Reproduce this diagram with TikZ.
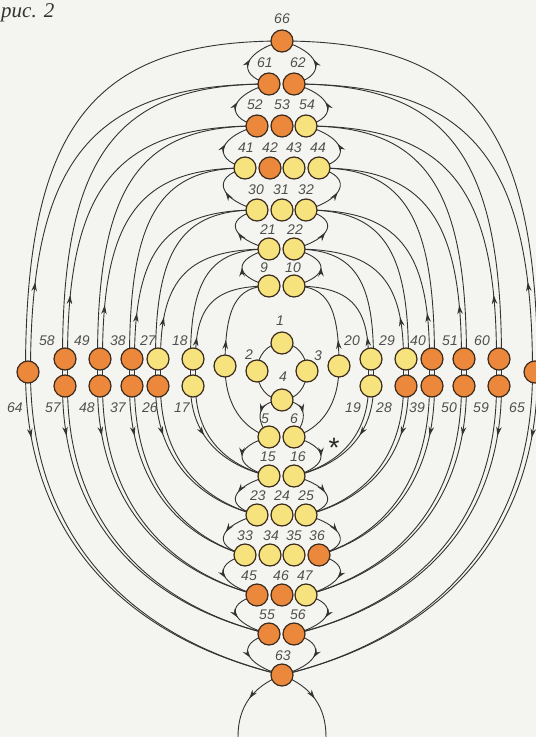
\documentclass[tikz,border=0pt]{standalone}
\usepackage{fontspec}
\newfontfamily\labfont{Liberation Sans}
\newfontfamily\capfont{Liberation Serif}
\usetikzlibrary{calc,arrows.meta,decorations.markings}
\pgfdeclarelayer{bg}
\pgfdeclarelayer{thr}
\pgfsetlayers{bg,thr,main}
\definecolor{paper}{HTML}{F4F4F1}
\definecolor{ybead}{HTML}{F7E37E}
\definecolor{obead}{HTML}{EC883B}
\definecolor{beadline}{HTML}{3B2B1E}
\definecolor{threadcol}{HTML}{333333}
\definecolor{labcol}{HTML}{4F4F4F}
\tikzset{
  bead/.style={circle,draw=beadline,line width=1.2pt,minimum size=22pt,inner sep=0pt},
  yb/.style={bead,fill=ybead},
  ob/.style={bead,fill=obead},
  lab/.style={font=\labfont\itshape\fontsize{14}{14}\selectfont,text=labcol,inner sep=0pt},
  thread/.style={draw=threadcol,line width=0.9pt},
  arrmid/.style={postaction={decorate},decoration={markings,mark=at position 0.5 with {\arrow{Stealth[length=9pt,width=5.5pt]}}}},
  arrat/.style={postaction={decorate},decoration={markings,mark=at position #1pt with {\arrow{Stealth[length=9pt,width=5.5pt]}}}},
}
% upper arc: #1 start coordinate, #2 end node, #3 extra style
\newcommand\uparc[3]{%
  \coordinate (tmpC) at (#1 |- #2);
  \draw[thread,#3] (#1) .. controls ($(#1)!0.74!(tmpC)$) and ($(#2)!0.74!(tmpC)$) .. (#2.center);
}
% lower arc
\newcommand\lowarc[3]{%
  \coordinate (tmpC) at (#1 |- #2);
  \coordinate (tmpD) at ($(#1)!0.8!(tmpC)$);
  \draw[thread,#3] (#1) .. controls ($(#1)!0.55!(tmpC)$) and ($(#2)!0.6!(tmpD)$) .. (#2.center);
}
% lobe between rows: from, to, dx, dy1, dy2
\newcommand\lobe[5]{%
  \draw[thread,arrmid] (#1.center) .. controls ($(#1)+(#3,#4)$) and ($(#2)+(#3,#5)$) .. (#2.center);
}
\begin{document}
\begin{tikzpicture}[x=1pt,y=-1pt]
\useasboundingbox (0,0) rectangle (536,737);
\begin{pgfonlayer}{bg}
\fill[paper] (0,0) rectangle (536,737);
\end{pgfonlayer}

% caption
\node[font=\capfont\itshape\fontsize{21}{21}\selectfont,text=black!80,anchor=base west,inner sep=0pt] (cap) at (1,17) {рис. 2};

% ---------- central column, upper ----------
\node[ob] (b66) at (282,41) {};
\node[ob] (b61) at (269,84) {};
\node[ob] (b62) at (294,84) {};
\node[ob] (b52) at (257,126) {};
\node[ob] (b53) at (282,126) {};
\node[yb] (b54) at (306,126) {};
\node[yb] (b41) at (245,168) {};
\node[ob] (b42) at (270,168) {};
\node[yb] (b43) at (294,168) {};
\node[yb] (b44) at (319,168) {};
\node[yb] (b30) at (257,210) {};
\node[yb] (b31) at (282,210) {};
\node[yb] (b32) at (306,210) {};
\node[yb] (b21) at (269,249) {};
\node[yb] (b22) at (294,249) {};
\node[yb] (b9) at (269,286) {};
\node[yb] (b10) at (294,286) {};
% ring
\node[yb] (b1) at (282,343) {};
\node[yb] (b2) at (257,371) {};
\node[yb] (b3) at (307,371) {};
\node[yb] (b4) at (282,400) {};
\node[yb] (b7) at (225,366) {};
\node[yb] (b8) at (339,366) {};
% lower
\node[yb] (b5) at (269,437) {};
\node[yb] (b6) at (294,437) {};
\node[yb] (b15) at (269,476) {};
\node[yb] (b16) at (294,476) {};
\node[yb] (b23) at (257,515) {};
\node[yb] (b24) at (282,515) {};
\node[yb] (b25) at (306,515) {};
\node[yb] (b33) at (245,555) {};
\node[yb] (b34) at (270,555) {};
\node[yb] (b35) at (294,555) {};
\node[ob] (b36) at (319,555) {};
\node[ob] (b45) at (257,595) {};
\node[ob] (b46) at (282,595) {};
\node[yb] (b47) at (306,595) {};
\node[ob] (b55) at (269,634) {};
\node[ob] (b56) at (294,634) {};
\node[ob] (b63) at (282,675) {};
% ---------- side beads ----------
\node[ob] (b64) at (28,372) {};
\node[ob] (b58) at (65,359) {};
\node[ob] (b57) at (65,386) {};
\node[ob] (b49) at (100,359) {};
\node[ob] (b48) at (100,386) {};
\node[ob] (b38) at (132,359) {};
\node[ob] (b37) at (132,386) {};
\node[yb] (b27) at (158,359) {};
\node[ob] (b26) at (158,386) {};
\node[yb] (b18) at (193,359) {};
\node[yb] (b17) at (193,386) {};
\node[yb] (b20) at (371,359) {};
\node[yb] (b19) at (371,386) {};
\node[yb] (b29) at (406,359) {};
\node[ob] (b28) at (406,386) {};
\node[ob] (b40) at (432,359) {};
\node[ob] (b39) at (432,386) {};
\node[ob] (b51) at (464,359) {};
\node[ob] (b50) at (464,386) {};
\node[ob] (b60) at (499,359) {};
\node[ob] (b59) at (499,386) {};
\node[ob] (b65) at (535,372) {};

% ---------- labels ----------
\node[lab] (l66) at (282,19) {66};
\node[lab] (l61) at (265,63) {61};
\node[lab] (l62) at (298,63) {62};
\node[lab] (l52) at (255,105) {52};
\node[lab] (l53) at (282,105) {53};
\node[lab] (l54) at (307,105) {54};
\node[lab] (l41) at (246,148) {41};
\node[lab] (l42) at (270,148) {42};
\node[lab] (l43) at (294,148) {43};
\node[lab] (l44) at (318,148) {44};
\node[lab] (l30) at (256,190) {30};
\node[lab] (l31) at (281,190) {31};
\node[lab] (l32) at (306,190) {32};
\node[lab] (l21) at (268,230) {21};
\node[lab] (l22) at (295,230) {22};
\node[lab] (l9) at (264,268) {9};
\node[lab] (l10) at (293,268) {10};
\node[lab] (l1) at (280,321) {1};
\node[lab] (l2) at (249,355) {2};
\node[lab] (l3) at (318,356) {3};
\node[lab] (l4) at (283,377) {4};
\node[lab] (l5) at (265,419) {5};
\node[lab] (l6) at (294,419) {6};
\node[lab] (l15) at (268,457) {15};
\node[lab] (l16) at (298,457) {16};
\node[lab] (l23) at (258,496) {23};
\node[lab] (l24) at (282,496) {24};
\node[lab] (l25) at (306,496) {25};
\node[lab] (l33) at (245,536) {33};
\node[lab] (l34) at (271,536) {34};
\node[lab] (l35) at (294,536) {35};
\node[lab] (l36) at (317,536) {36};
\node[lab] (l45) at (249,576) {45};
\node[lab] (l46) at (281,576) {46};
\node[lab] (l47) at (305,576) {47};
\node[lab] (l55) at (267,615) {55};
\node[lab] (l56) at (298,615) {56};
\node[lab] (l63) at (283,656) {63};
\node[lab] (l58) at (47,341) {58};
\node[lab] (l49) at (82,341) {49};
\node[lab] (l38) at (118,341) {38};
\node[lab] (l27) at (148,341) {27};
\node[lab] (l18) at (180,341) {18};
\node[lab] (l64) at (15,408) {64};
\node[lab] (l57) at (53,408) {57};
\node[lab] (l48) at (87,408) {48};
\node[lab] (l37) at (118,408) {37};
\node[lab] (l26) at (150,408) {26};
\node[lab] (l17) at (182,408) {17};
\node[lab] (l20) at (352,341) {20};
\node[lab] (l29) at (387,341) {29};
\node[lab] (l40) at (418,341) {40};
\node[lab] (l51) at (450,341) {51};
\node[lab] (l60) at (482,341) {60};
\node[lab] (l19) at (353,408) {19};
\node[lab] (l28) at (384,408) {28};
\node[lab] (l39) at (417,408) {39};
\node[lab] (l50) at (449,408) {50};
\node[lab] (l59) at (481,408) {59};
\node[lab] (l65) at (517,408) {65};
\node[font=\labfont\fontsize{28}{28}\selectfont,text=black!85,anchor=base,inner sep=0pt] (star) at (334,457) {*};

% ---------- threads ----------
\begin{pgfonlayer}{thr}
% ring
\draw[thread] (b1.center) to[out=180,in=90] (b2.center) to[out=-90,in=180] (b4.center)
  to[out=0,in=-90] (b3.center) to[out=90,in=0] (b1.center);
\draw[thread,arrmid] (b4.center) .. controls ($(b4)+(-26,2)$) and ($(b5)+(-14,-18)$) .. (b5.center);
\draw[thread,arrmid] (b4.center) .. controls ($(b4)+(26,2)$) and ($(b6)+(14,-18)$) .. (b6.center);
% lobes
\foreach \a/\b in {9/21,21/30,30/41,41/52,52/61,61/66}{\lobe{b\a}{b\b}{-36}{-10}{10}}
\foreach \a/\b in {10/22,22/32,32/44,44/54,54/62,62/66}{\lobe{b\a}{b\b}{36}{-10}{10}}
\foreach \a/\b in {5/15,15/23,23/33,33/45,45/55,55/63}{\lobe{b\a}{b\b}{-36}{10}{-10}}
\foreach \a/\b in {6/16,16/25,25/36,36/47,47/56,56/63}{\lobe{b\a}{b\b}{36}{10}{-10}}
% bottom
\coordinate (bl) at (238,737);
\coordinate (br) at (326,737);
\draw[thread,arrmid] (b63.center) .. controls ($(b63)+(-30,12)$) and ($(bl)+(0,-30)$) .. (bl);
\draw[thread,arrmid] (b63.center) .. controls ($(b63)+(30,12)$) and ($(br)+(0,-30)$) .. (br);
% innermost side beads 7 and 8
\uparc{b7.center}{b9}{arrat=26}
\lowarc{b7.center}{b5}{}
\uparc{b8.center}{b10}{arrat=26}
\lowarc{b8.center}{b6}{}
% side pairs
\foreach \u/\l/\ro/\ri/\rl/\so/\si/\au/\al in {
  58/57/61/52/55/-2.5/2.5/64/50, 49/48/52/41/45/-2.5/2.5/54/50,
  38/37/41/30/33/-2.5/2.5/46/50, 27/26/30/21/23/-2.5/2.5/42/50,
  18/17/21/9/15/-2.5/2.5/22/52,
  60/59/62/54/56/2.5/-2.5/64/50, 51/50/54/44/47/2.5/-2.5/54/50,
  40/39/44/32/36/2.5/-2.5/46/50, 29/28/32/22/25/2.5/-2.5/42/50,
  20/19/22/10/16/2.5/-2.5/22/52}{
  \coordinate (uo) at ($(b\u)+(\so,0)$);
  \coordinate (ui) at ($(b\u)+(\si,0)$);
  \coordinate (lo) at ($(b\l)+(\so,0)$);
  \coordinate (li) at ($(b\l)+(\si,0)$);
  \draw[thread] (uo) -- (lo) (ui) -- (li);
  \uparc{uo}{b\ro}{}
  \uparc{ui}{b\ri}{arrat=\au}
  \lowarc{lo}{b\rl}{arrat=\al}
  \lowarc{li}{b\rl}{}
}
% outermost single beads 64 and 65
\coordinate (p64o) at ($(b64)+(-2.5,0)$);
\coordinate (p64i) at ($(b64)+(2.5,0)$);
\coordinate (p65o) at ($(b65)+(2.5,0)$);
\coordinate (p65i) at ($(b65)+(-2.5,0)$);
\uparc{p64o}{b66}{}
\uparc{p64i}{b61}{arrat=90}
\lowarc{p64o}{b63}{arrat=66}
\lowarc{p64i}{b63}{}
\uparc{p65o}{b66}{}
\uparc{p65i}{b62}{arrat=90}
\lowarc{p65o}{b63}{arrat=66}
\lowarc{p65i}{b63}{}
\end{pgfonlayer}
\end{tikzpicture}
\end{document}
